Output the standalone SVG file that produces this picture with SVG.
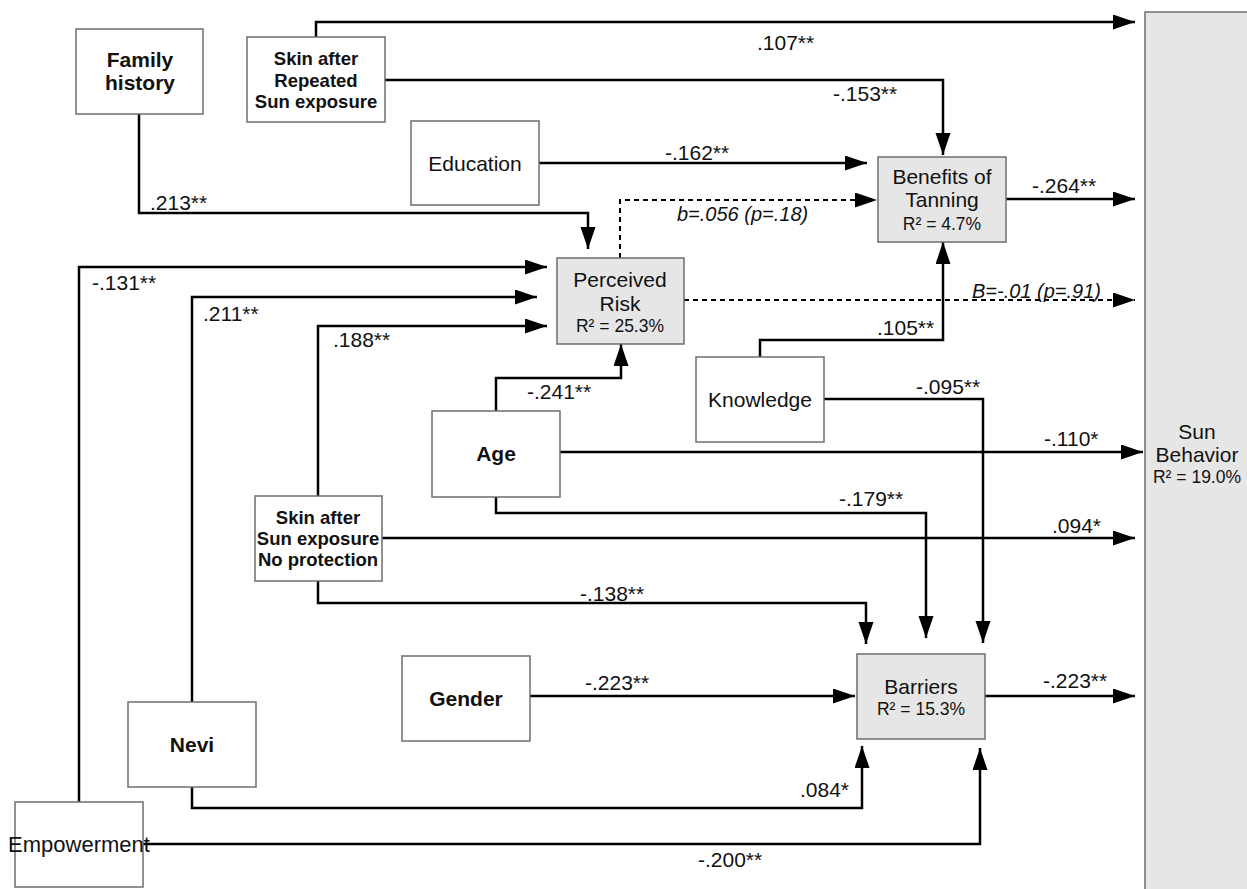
<svg xmlns="http://www.w3.org/2000/svg" width="1247" height="889" viewBox="0 0 1247 889">
<defs>
<marker id="ah" markerUnits="userSpaceOnUse" markerWidth="24" markerHeight="16" refX="22" refY="7.5" orient="auto">
<path d="M0,0 L22,7.5 L0,15 z" fill="#000"/>
</marker>
<style>
.box{fill:#fff;stroke:#6e6e6e;stroke-width:1.5}
.gbox{fill:#e6e6e6;stroke:#6e6e6e;stroke-width:1.5}
.c{fill:none;stroke:#000;stroke-width:2.5;marker-end:url(#ah)}
.d{fill:none;stroke:#000;stroke-width:2;stroke-dasharray:5,4;marker-end:url(#ah)}
text{font-family:"Liberation Sans",Arial,sans-serif;fill:#111}
.n{font-size:21px;text-anchor:middle}
.b{font-size:21px;font-weight:bold;text-anchor:middle}
.sb{font-size:18.5px;font-weight:bold;text-anchor:middle}
.r{font-size:17.5px;text-anchor:middle}
.l{font-size:21px}
.i{font-size:20px;font-style:italic}
</style>
</defs>
<rect width="1247" height="889" fill="#fff"/>

<g id="connectors">
<path class="c" d="M316,37 V22 H1135"/>
<path class="c" d="M385,80 H943 V155"/>
<path class="c" d="M539,163 H867"/>
<path class="d" d="M620,258 V200 H877"/>
<path class="c" d="M1006,199 H1135"/>
<path class="c" d="M139,114 V213 H588 V249"/>
<path class="c" d="M79,802 V267 H547"/>
<path class="c" d="M192,702 V297 H537"/>
<path class="c" d="M318,496 V326 H547"/>
<path class="c" d="M496,411 V378 H621 V344"/>
<path class="d" d="M684,300 H1135"/>
<path class="c" d="M760,357 V340 H943 V242"/>
<path class="c" d="M824,399 H983 V643"/>
<path class="c" d="M560,452 H1143"/>
<path class="c" d="M496,497 V513 H926 V638"/>
<path class="c" d="M382,538 H1135"/>
<path class="c" d="M318,581 V603 H866 V644"/>
<path class="c" d="M530,696 H855"/>
<path class="c" d="M985,696 H1135"/>
<path class="c" d="M192,787 V808 H862 V746"/>
<path class="c" d="M143,844 H980 V748"/>
</g>

<g id="labels">
<text class="l" x="757" y="50">.107**</text>
<text class="l" x="833" y="101">-.153**</text>
<text class="l" x="665" y="160">-.162**</text>
<text class="l" x="1032" y="193">-.264**</text>
<text class="l" x="150" y="210">.213**</text>
<text class="i" x="677" y="221">b=.056 (p=.18)</text>
<text class="l" x="92" y="290">-.131**</text>
<text class="l" x="203" y="321">.211**</text>
<text class="l" x="333" y="347">.188**</text>
<text class="l" x="527" y="399">-.241**</text>
<text class="i" x="972" y="298">B=-.01 (p=.91)</text>
<text class="l" x="877" y="335">.105**</text>
<text class="l" x="916" y="394">-.095**</text>
<text class="l" x="1044" y="446">-.110*</text>
<text class="l" x="839" y="506">-.179**</text>
<text class="l" x="1052" y="533">.094*</text>
<text class="l" x="580" y="601">-.138**</text>
<text class="l" x="585" y="690">-.223**</text>
<text class="l" x="1043" y="688">-.223**</text>
<text class="l" x="800" y="797">.084*</text>
<text class="l" x="698" y="867">-.200**</text>
</g>

<g id="sun-behavior">
<rect class="gbox" x="1145" y="12" width="120" height="890"/>
<text class="n" x="1197" y="439">Sun</text>
<text class="n" x="1197" y="462">Behavior</text>
<text class="r" x="1197" y="483">R² = 19.0%</text>
</g>

<g id="family-history">
<rect class="box" x="76" y="29" width="127" height="85"/>
<text class="b" x="140" y="67">Family</text>
<text class="b" x="140" y="90">history</text>
</g>

<g id="skin-repeated">
<rect class="box" x="247" y="37" width="138" height="85"/>
<text class="sb" x="316" y="65">Skin after</text>
<text class="sb" x="316" y="87">Repeated</text>
<text class="sb" x="316" y="108">Sun exposure</text>
</g>

<g id="education">
<rect class="box" x="411" y="121" width="128" height="84"/>
<text class="n" x="475" y="171">Education</text>
</g>

<g id="benefits">
<rect class="gbox" x="878" y="157" width="128" height="85"/>
<text class="n" x="942" y="184">Benefits of</text>
<text class="n" x="942" y="207">Tanning</text>
<text class="r" x="942" y="230">R² = 4.7%</text>
</g>

<g id="perceived-risk">
<rect class="gbox" x="557" y="258" width="127" height="86"/>
<text class="n" x="620" y="287">Perceived</text>
<text class="n" x="620" y="311">Risk</text>
<text class="r" x="620" y="332">R² = 25.3%</text>
</g>

<g id="age">
<rect class="box" x="432" y="411" width="128" height="86"/>
<text class="b" x="496" y="461">Age</text>
</g>

<g id="knowledge">
<rect class="box" x="696" y="357" width="128" height="85"/>
<text class="n" x="760" y="407">Knowledge</text>
</g>

<g id="skin-noprotection">
<rect class="box" x="255" y="496" width="127" height="85"/>
<text class="sb" x="318" y="524">Skin after</text>
<text class="sb" x="318" y="545">Sun exposure</text>
<text class="sb" x="318" y="566">No protection</text>
</g>

<g id="gender">
<rect class="box" x="402" y="656" width="128" height="85"/>
<text class="b" x="466" y="706">Gender</text>
</g>

<g id="barriers">
<rect class="gbox" x="857" y="654" width="128" height="85"/>
<text class="n" x="921" y="694">Barriers</text>
<text class="r" x="921" y="715">R² = 15.3%</text>
</g>

<g id="nevi">
<rect class="box" x="128" y="702" width="128" height="85"/>
<text class="b" x="192" y="752">Nevi</text>
</g>

<g id="empowerment">
<rect class="box" x="15" y="802" width="128" height="85"/>
<text class="n" x="79" y="852" style="font-size:22px">Empowerment</text>
</g>
</svg>
